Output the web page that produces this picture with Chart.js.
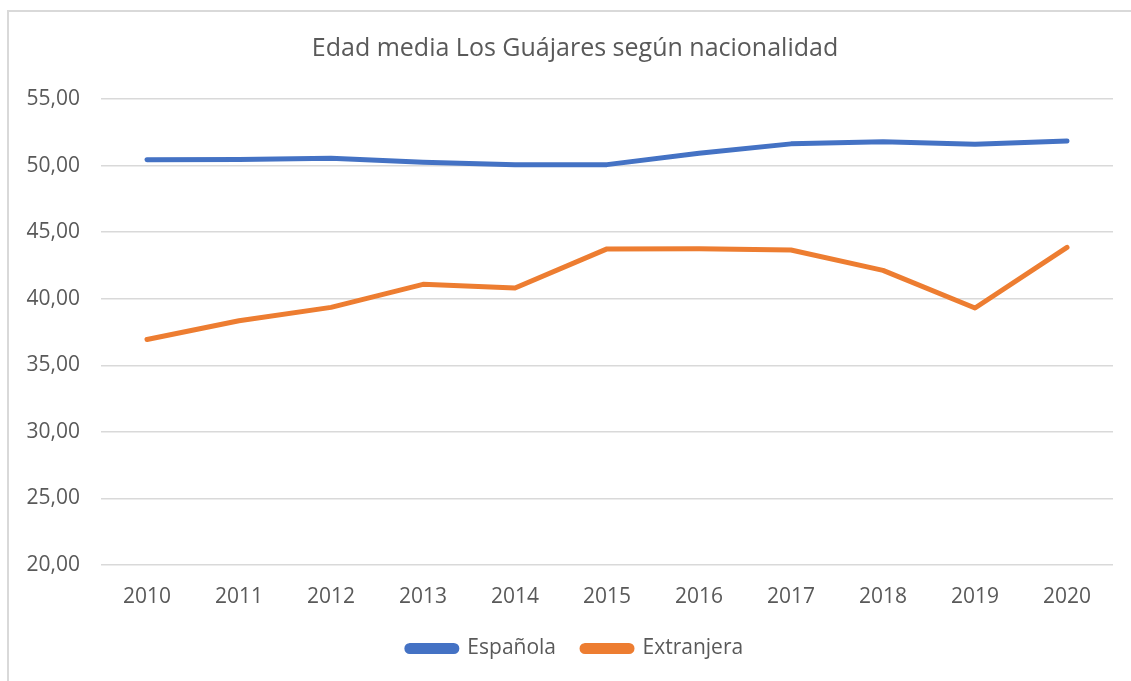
<!DOCTYPE html>
<html lang="es">
<head>
    <meta charset="UTF-8">
    <title>Edad media Los Guájares según nacionalidad</title>
    <script src="https://cdn.jsdelivr.net/npm/chart.js"></script>
    <style>
        body {
            margin: 0;
            background: #ffffff;
            font-family: "Open Sans", sans-serif;
        }
        .frame {
            position: absolute;
            left: 7px;
            top: 10px;
            right: -5px;
            bottom: -5px;
            border-top: 2px solid #d9d9d9;
            border-left: 2px solid #d9d9d9;
        }
        .wrap {
            position: absolute;
            left: 0;
            top: 0;
            width: 1131px;
            height: 681px;
        }
    </style>
</head>
<body>

    <div class="frame"></div>
    <div class="wrap">
        <canvas id="lineChart"></canvas>
    </div>

    <script>
        // Data
        const years = ['2010', '2011', '2012', '2013', '2014', '2015', '2016', '2017', '2018', '2019', '2020'];
        const espanola = [50.43, 50.45, 50.55, 50.25, 50.07, 50.07, 50.92, 51.63, 51.78, 51.60, 51.85];
        const extranjera = [36.94, 38.34, 39.35, 41.08, 40.80, 43.74, 43.76, 43.66, 42.13, 39.30, 43.86];

        const textColor = '#595959';
        const gridColor = '#d9d9d9';

        // title and legend sit centred on the frame, not on the canvas
        const centreShift = {
            id: 'centreShift',
            afterLayout(chart) {
                if (chart.titleBlock) chart.titleBlock.left += 37;
                if (chart.legend) chart.legend.left += 37;
            }
        };

        const ctx = document.getElementById('lineChart').getContext('2d');

        new Chart(ctx, {
            type: 'line',
            data: {
                labels: years,
                datasets: [
                    {
                        label: 'Española',
                        data: espanola,
                        borderColor: '#4472c4',
                        backgroundColor: '#4472c4',
                        borderWidth: 5,
                        pointRadius: 0,
                        borderCapStyle: 'round',
                        borderJoinStyle: 'round',
                        tension: 0
                    },
                    {
                        label: 'Extranjera',
                        data: extranjera,
                        borderColor: '#ed7d31',
                        backgroundColor: '#ed7d31',
                        borderWidth: 5,
                        pointRadius: 0,
                        borderCapStyle: 'round',
                        borderJoinStyle: 'round',
                        tension: 0
                    }
                ]
            },
            options: {
                responsive: true,
                maintainAspectRatio: false,
                animation: false,
                layout: {
                    padding: { left: 0, right: 18, top: 0, bottom: 12 }
                },
                plugins: {
                    title: {
                        display: true,
                        text: 'Edad media Los Guájares según nacionalidad',
                        color: textColor,
                        font: { family: 'Open Sans', size: 25, weight: 'normal' },
                        padding: { top: 34, bottom: 35 }
                    },
                    legend: {
                        position: 'bottom',
                        labels: {
                            color: textColor,
                            font: { family: 'Open Sans', size: 21 },
                            boxWidth: 50,
                            boxHeight: 6,
                            useBorderRadius: true,
                            borderRadius: 3,
                            padding: 26
                        }
                    },
                    tooltip: { enabled: false }
                },
                scales: {
                    x: {
                        offset: true,
                        grid: { display: false, drawTicks: false },
                        border: { display: false },
                        ticks: {
                            color: textColor,
                            font: { family: 'Open Sans', size: 21 },
                            padding: 19,
                            maxRotation: 0
                        },
                        afterFit: function (scale) { scale.height = 47; }
                    },
                    y: {
                        min: 20,
                        max: 55,
                        grid: { color: gridColor, lineWidth: 1.5, drawTicks: false },
                        border: { display: false },
                        ticks: {
                            stepSize: 5,
                            color: textColor,
                            font: { family: 'Open Sans', size: 21 },
                            padding: 21,
                            callback: function (v) { return v.toFixed(2).replace('.', ','); }
                        },
                        afterFit: function (scale) { scale.width = 101; }
                    }
                }
            },
            plugins: [centreShift]
        });
    </script>

</body>
</html>
